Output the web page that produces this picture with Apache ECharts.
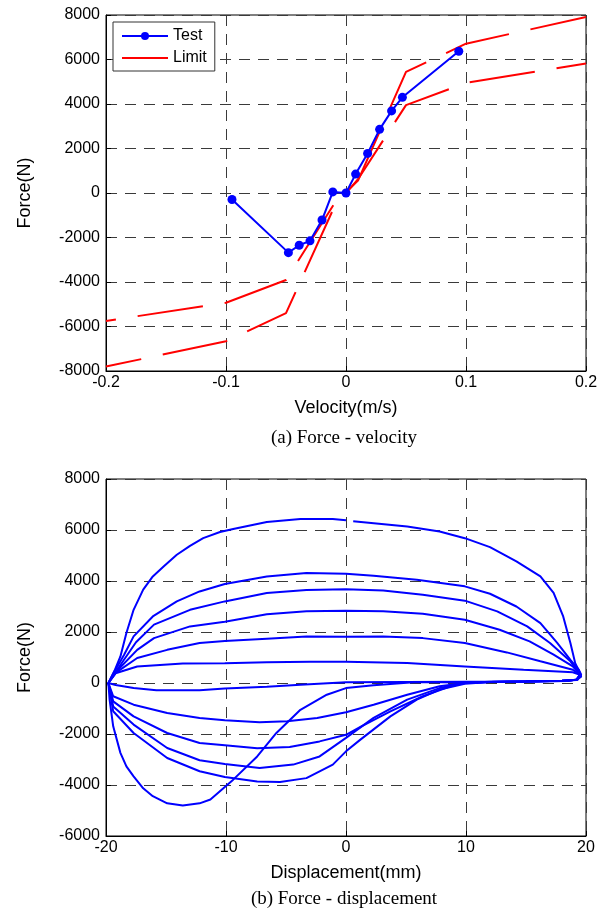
<!DOCTYPE html>
<html>
<head>
<meta charset="utf-8">
<script src="https://cdn.jsdelivr.net/npm/echarts@6/dist/echarts.min.js"></script>
<style>
html, body { margin: 0; padding: 0; background: #fff; }
#main { width: 611px; height: 915px; }
</style>
</head>
<body>
<div id="main"></div>
<script>
// (a) force - velocity, test points
var velocity  = [-0.095, -0.048, -0.039, -0.030, -0.020, -0.011, 0.000, 0.008, 0.018, 0.028, 0.038, 0.047, 0.094];
var testForce = [-290, -2680, -2350, -2150, -1215, 50, 0, 850, 1780, 2860, 3690, 4300, 6370];

// limit curves (upper and lower band)
var limitUpV = [-0.2, -0.1, -0.05, -0.01, 0.01, 0.05, 0.1, 0.2];
var limitUpF = [-5750, -4930, -3910, -500, 560, 5440, 6710, 7910];
var limitLoV = [-0.2, -0.1, -0.05, -0.01, 0.01, 0.05, 0.1, 0.2];
var limitLoF = [-7800, -6660, -5400, -650, 620, 3950, 4950, 5820];

// (b) force - displacement loops, [mm, N]
var loop1 = [[0.6,6340],[5.1,6140],[7.8,5940],[9.9,5680],[12,5330],[14.2,4770],[16.2,4180],[17.3,3530],[18.1,2610],
  [18.7,1570],[19.1,780],[19.5,390],[19.6,250],[19.2,120],[18,90],[15,60],[12,40],[10,20],[8,30],[5.9,40],[2.3,-90],
  [0,-200],[-1.6,-460],[-3.8,-1050],[-5.8,-1960],[-7.4,-2880],[-9.4,-3790],[-11.3,-4570],[-12.2,-4720],[-13.6,-4800],
  [-14.9,-4720],[-16.1,-4440],[-16.9,-4130],[-17.7,-3660],[-18.3,-3270],[-18.8,-2740],[-19.4,-1700],[-19.7,-650],
  [-19.8,0],[-19.25,520],[-18.8,1040],[-18.3,1960],[-17.7,2870],[-16.9,3660],[-16.1,4180],[-15.2,4570],[-14.1,5030],
  [-13,5380],[-11.9,5680],[-10.5,5920],[-9.4,6040],[-6.6,6310],[-3.8,6430],[-1.1,6430],[0,6380]];
var loop2 = [[-19.8,0],[-19.3,450],[-18.5,1100],[-17.7,1830],[-16.1,2610],[-14.1,3200],[-12.2,3590],[-10.1,3880],
  [-6.6,4180],[-3.3,4310],[0,4280],[2.3,4210],[5.9,4050],[9.9,3790],[12,3500],[14.2,3000],[16.2,2350],[17.6,1570],
  [18.7,910],[19.4,520],[19.6,330],[19.3,130],[18,90],[15,60],[12,40],[9.9,-30],[7.8,-260],[5.9,-650],[3.7,-1310],
  [1.2,-2220],[0,-2680],[-1.1,-3200],[-3.3,-3730],[-5.5,-3880],[-7.4,-3860],[-10.1,-3690],[-12.2,-3460],
  [-14.9,-2940],[-17.7,-1960],[-19.4,-1110],[-19.8,0]];
var loop3 = [[-19.8,0],[-19.2,430],[-17.5,1600],[-16,2290],[-13,2870],[-10.1,3200],[-6.6,3530],[-3.3,3650],[0,3680],
  [3.1,3630],[6.4,3460],[9.9,3230],[12.6,2810],[15.1,2220],[17,1570],[18.7,850],[19.5,350],[19.3,130],[18,90],
  [15,60],[12,40],[9.9,0],[7.8,-200],[5.1,-650],[2.3,-1370],[0,-2150],[-2.2,-2880],[-4.4,-3200],[-7.2,-3330],
  [-10.1,-3180],[-12.2,-3030],[-14.9,-2550],[-17.7,-1630],[-19.4,-920],[-19.8,0]];
var loop4 = [[-19.8,0],[-19.2,420],[-17.4,1300],[-16,1760],[-13,2220],[-10.1,2400],[-6.6,2700],[-3.3,2810],[0,2830],
  [3.1,2810],[6.4,2720],[9.9,2480],[12.8,2090],[15.3,1630],[17.3,1110],[18.9,650],[19.5,330],[19.2,130],[18,90],
  [15,70],[12,50],[9.9,0],[8.7,-130],[6.4,-520],[3.7,-1110],[1.2,-1720],[0,-2030],[-2.2,-2290],[-4.7,-2510],
  [-7.4,-2560],[-10.1,-2440],[-12.2,-2350],[-14.9,-1960],[-17.7,-1310],[-19.4,-720],[-19.8,0]];
var loop5 = [[-19.8,0],[-19.2,400],[-17.4,980],[-14.9,1300],[-12.2,1570],[-10.1,1650],[-6.6,1740],[-3.3,1820],[0,1810],
  [3.1,1820],[6.4,1760],[9.9,1570],[13.4,1200],[16.2,850],[18.9,520],[19.5,320],[19.2,130],[18,80],[15,60],[12,40],
  [9.9,0],[7.8,-130],[5.1,-460],[2.3,-850],[0,-1150],[-2.4,-1370],[-4.9,-1500],[-7.2,-1540],[-10.1,-1460],
  [-12.2,-1370],[-14.9,-1180],[-17.7,-850],[-19.4,-520],[-19.8,0]];
var loop6 = [[-19.8,0],[-19.2,380],[-17.4,650],[-13.6,760],[-10.1,770],[-6.6,810],[-3,830],[0,830],[5.1,780],[9.9,650],
  [14.8,520],[18.9,420],[19.5,320],[19.3,150],[18.5,80],[15,60],[10,50],[5,40],[0,25],[-3.8,-70],[-6.6,-150],
  [-10.1,-220],[-12.2,-280],[-15.8,-280],[-17.7,-200],[-19.2,-80],[-19.8,0]];

var myChart = echarts.init(document.getElementById('main'));

var sans = 'Liberation Sans';
var gridDash = { color: '#3a3a3a', width: 1, type: [11, 8] };

function pairs(xs, ys) {
  return xs.map(function (x, i) { return [x, ys[i]]; });
}
function plain(v) {
  return String(+v.toFixed(6));
}

function xAxisOf(idx, min, max, step, name) {
  return {
    type: 'value', gridIndex: idx, min: min, max: max, interval: step,
    name: name, nameLocation: 'middle', nameGap: 28,
    nameTextStyle: { color: '#000', fontSize: 18, fontFamily: sans },
    axisLine: { onZero: false, lineStyle: { color: '#000', width: 1 } },
    axisTick: { inside: true, length: 5, lineStyle: { color: '#000' } },
    axisLabel: { color: '#000', fontSize: 16, fontFamily: sans, margin: 4, formatter: plain },
    splitLine: { show: true, lineStyle: gridDash }
  };
}
function yAxisOf(idx, min, max, step) {
  return {
    type: 'value', gridIndex: idx, min: min, max: max, interval: step,
    name: 'Force(N)', nameLocation: 'middle', nameGap: 72,
    nameTextStyle: { color: '#000', fontSize: 18, fontFamily: sans },
    axisLine: { show: true, onZero: false, lineStyle: { color: '#000', width: 1 } },
    axisTick: { show: true, inside: true, length: 5, lineStyle: { color: '#000' } },
    axisLabel: { color: '#000', fontSize: 16, fontFamily: sans, margin: 6, formatter: plain },
    splitLine: { show: true, lineStyle: gridDash }
  };
}
function loopSeries(data) {
  return {
    type: 'line', xAxisIndex: 1, yAxisIndex: 1, data: data,
    showSymbol: false, symbol: 'none',
    lineStyle: { color: '#0000ff', width: 2 }
  };
}

var option = {
  animation: false,
  backgroundColor: '#fff',
  grid: [
    { left: 106, top: 15, width: 480, height: 356, show: true, borderColor: '#000', borderWidth: 1 },
    { left: 106, top: 479, width: 480, height: 357, show: true, borderColor: '#000', borderWidth: 1 }
  ],
  xAxis: [
    xAxisOf(0, -0.2, 0.2, 0.1, 'Velocity(m/s)'),
    xAxisOf(1, -20, 20, 10, 'Displacement(mm)')
  ],
  yAxis: [
    yAxisOf(0, -8000, 8000, 2000),
    yAxisOf(1, -6000, 8000, 2000)
  ],
  legend: {
    left: 113, top: 22, orient: 'vertical',
    backgroundColor: '#fff', borderColor: '#333', borderWidth: 1,
    padding: [6, 8, 5, 8], itemGap: 6, itemWidth: 46, itemHeight: 10,
    textStyle: { color: '#000', fontSize: 16, fontFamily: sans },
    data: [
      { name: 'Test' },
      { name: 'Limit', itemStyle: { color: 'rgba(0,0,0,0)', borderWidth: 0 }, lineStyle: { type: 'solid', color: '#ff0000', width: 2 } }
    ]
  },
  graphic: [
    { type: 'text', x: 344, y: 438, style: { text: '(a) Force - velocity', font: '19px "Liberation Serif"', fill: '#000', textAlign: 'center', textVerticalAlign: 'middle' } },
    { type: 'text', x: 344, y: 899, style: { text: '(b) Force - displacement', font: '19px "Liberation Serif"', fill: '#000', textAlign: 'center', textVerticalAlign: 'middle' } }
  ],
  series: [
    {
      name: 'Limit', type: 'line', xAxisIndex: 0, yAxisIndex: 0,
      data: pairs(limitUpV, limitUpF), showSymbol: false, symbol: 'none',
      lineStyle: { color: '#ff0000', width: 2, type: [66, 22], dashOffset: 56 }, itemStyle: { color: '#ff0000' }
    },
    {
      name: 'Limit', type: 'line', xAxisIndex: 0, yAxisIndex: 0,
      data: pairs(limitLoV, limitLoF), showSymbol: false, symbol: 'none',
      lineStyle: { color: '#ff0000', width: 2, type: [66, 22], dashOffset: 30 }, itemStyle: { color: '#ff0000' }
    },
    {
      name: 'Test', type: 'line', xAxisIndex: 0, yAxisIndex: 0, z: 3,
      data: pairs(velocity, testForce), symbol: 'circle', symbolSize: 9,
      lineStyle: { color: '#0000ff', width: 2 }, itemStyle: { color: '#0000ff' }
    },
    loopSeries(loop1), loopSeries(loop2), loopSeries(loop3),
    loopSeries(loop4), loopSeries(loop5), loopSeries(loop6)
  ]
};

myChart.setOption(option);
</script>
</body>
</html>
